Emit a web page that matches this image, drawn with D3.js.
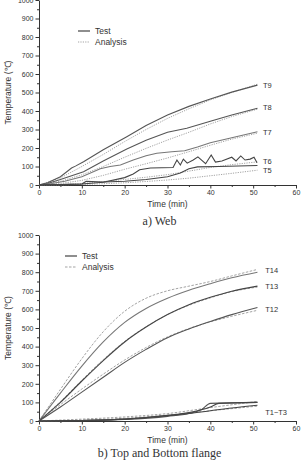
<!DOCTYPE html>
<html>
<head>
<meta charset="UTF-8">
<title>Temperature</title>
<script src="https://d3js.org/d3.v7.min.js"></script>
<style>
	body { margin: 0; background: #fff; }
	svg text { font-family: "Liberation Sans", Arial, sans-serif; fill: #333; }
	.caption { font-family: "Liberation Serif", "Times New Roman", serif !important; }
</style>
</head>
<body>
<div id="chart"></div>
<script>
	// ---- data (time in min, temperature in C) ----
	let xTicks = [0, 10, 20, 30, 40, 50, 60];
	let yTicks = [0, 100, 200, 300, 400, 500, 600, 700, 800, 900, 1000];

	// a) Web
	let t9Test = [[0,0],[2,12],[5,45],[7.6,92],[8.5,102],[10.4,126],[15,190],[20.5,261],[25,322],[30,378],[35,425],[40,465],[45,502],[51,540]];
	let t9Ana  = [[0,0],[5,38],[10,100],[15,165],[20,235],[25,300],[30,360],[35,412],[40,460],[45,500],[51,545]];
	let t8Test = [[0,0],[2,8],[5,30],[10.4,72],[15,130],[20.5,194],[25,242],[30,285],[34.5,307],[40.4,347],[45,378],[51,415]];
	let t8Ana  = [[0,0],[5,20],[10,55],[15,100],[20,150],[25,198],[30,243],[35,285],[40,330],[45,370],[51,410]];
	let t7Test = [[0,0],[3,8],[6,20],[10,45],[14.3,88],[16.6,100],[19,108],[22,135],[25,158],[27.5,172],[31,180],[34,185],[37,205],[40,228],[45,255],[51,288]];
	let t7Ana  = [[0,0],[5,8],[10,25],[15,52],[20,85],[25,115],[30,146],[35,180],[40,215],[45,248],[51,280]];
	let t6Test = [[0,0],[5,3],[10,5],[15,15],[20,40],[22,60],[23.5,82],[26,92],[31.3,95],[32.2,135],[33,108],[33.7,140],[34.6,118],[36,135],[37.1,152],[38.9,115],[40.2,162],[41.2,124],[42.7,130],[45,150],[46,130],[47.1,157],[48.1,135],[49.3,140],[50.2,150],[50.9,120]];
	let t6Ana  = [[0,0],[5,2],[10,8],[15,18],[20,30],[25,42],[30,56],[35,75],[40,95],[45,110],[51,125]];
	let t5Test = [[0,0],[5,2],[10,5],[11,20],[15,16],[20,20],[25,30],[30,45],[33,65],[35,88],[37,98],[42,100],[51,105]];
	let t5Ana  = [[0,0],[5,1],[10,3],[15,7],[20,12],[25,19],[30,27],[35,37],[40,50],[45,63],[51,80]];

	// b) Top and Bottom flange
	let t14Test = [[0,0],[5,150],[10,295],[15,425],[20,530],[25,605],[30,660],[35,703],[40,738],[45,770],[51,800]];
	let t14Ana  = [[0,0],[5,170],[10,335],[15,480],[20,590],[25,660],[30,700],[35,725],[40,750],[45,780],[51,815]];
	let t13Test = [[0,0],[5,100],[10,215],[15,325],[20,425],[25,505],[30,572],[35,625],[40,665],[45,698],[51,725]];
	let t13Ana  = [[0,0],[5,105],[10,220],[15,330],[20,428],[25,507],[30,572],[35,622],[40,662],[45,695],[51,720]];
	let t12Test = [[0,0],[5,75],[10,155],[15,235],[20,315],[25,385],[30,448],[35,495],[40,535],[45,572],[51,610]];
	let t12Ana  = [[0,0],[5,88],[10,172],[15,252],[20,328],[25,395],[30,452],[35,497],[40,533],[45,563],[51,595]];
	let t1Test  = [[0,0],[10,2],[20,8],[30,25],[35,40],[38,62],[40,95],[51,100]];
	let t2Test  = [[0,0],[10,3],[20,10],[30,30],[35,45],[40,75],[42,95],[51,100]];
	let t3Test  = [[0,0],[10,3],[20,10],[30,28],[35,40],[40,55],[45,70],[51,85]];
	let t1Ana   = [[0,0],[10,10],[20,22],[30,40],[40,72],[51,105]];
	let t3Ana   = [[0,0],[10,5],[20,15],[30,32],[40,55],[51,80]];

	let svg = d3.select("#chart")
		.append("svg")
		.attr("width", 304)
		.attr("height", 466);

	function drawPanel(p) {
		let g = svg.append("g").attr("transform", "translate(" + p.left + "," + p.top + ")");
		let x = d3.scaleLinear().domain([0, 60]).range([0, p.w]);
		let y = d3.scaleLinear().domain([0, 1000]).range([p.h, 0]);

		// minor ticks
		g.append("g").attr("transform", "translate(0," + p.h + ")")
			.call(d3.axisBottom(x).tickValues(d3.range(5, 60, 10)).tickSize(2).tickFormat(""))
			.call(a => a.select(".domain").remove());
		g.append("g")
			.call(d3.axisLeft(y).tickValues(d3.range(50, 1000, 100)).tickSize(2).tickFormat(""))
			.call(a => a.select(".domain").remove());

		let xa = g.append("g").attr("transform", "translate(0," + p.h + ")")
			.call(d3.axisBottom(x).tickValues(xTicks).tickSize(3.5).tickSizeOuter(0).tickPadding(2).tickFormat(d3.format("d")));
		let ya = g.append("g")
			.call(d3.axisLeft(y).tickValues(yTicks).tickSize(3.5).tickSizeOuter(0).tickPadding(2).tickFormat(d3.format("d")));
		[xa, ya].forEach(a => {
			a.selectAll("text").style("font-size", "7px").attr("fill", "#333");
			a.selectAll("line, path").attr("stroke", "#333");
		});
		g.selectAll(".tick line").attr("stroke", "#333");

		g.append("text").attr("x", p.w / 2).attr("y", p.h + 22)
			.attr("text-anchor", "middle").style("font-size", "8.5px").text("Time (min)");
		g.append("text").attr("transform", "translate(-28," + (p.h / 2) + ") rotate(-90)")
			.attr("text-anchor", "middle").style("font-size", "8.5px").text("Temperature (℃)");

		let line = d3.line().x(d => x(d[0])).y(d => y(d[1])).curve(p.curve);

		p.series.forEach(s => {
			g.append("path").datum(s.data)
				.attr("fill", "none")
				.attr("stroke", s.ana ? "#999" : (s.color || "#555"))
				.attr("stroke-width", s.ana ? 0.9 : 1.1)
				.attr("stroke-dasharray", s.ana ? p.dash : null)
				.attr("d", line);
		});

		p.labels.forEach(l => {
			g.append("text").attr("x", x(l.t)).attr("y", y(l.v)).attr("dy", "0.35em")
				.style("font-size", "7.5px").text(l.name);
		});

		// legend
		let lg = g.append("g").attr("transform", "translate(" + p.legX + "," + p.legY + ")");
		lg.append("line").attr("x1", 0).attr("x2", 12).attr("y1", 0).attr("y2", 0)
			.attr("stroke", "#444").attr("stroke-width", 1.2);
		lg.append("line").attr("x1", 0).attr("x2", 12).attr("y1", 11).attr("y2", 11)
			.attr("stroke", "#999").attr("stroke-width", 0.9).attr("stroke-dasharray", p.dash);
		lg.append("text").attr("x", 17).attr("y", 0).attr("dy", "0.35em").style("font-size", "8.5px").text("Test");
		lg.append("text").attr("x", 17).attr("y", 11).attr("dy", "0.35em").style("font-size", "8.5px").text("Analysis");

		svg.append("text").attr("class", "caption")
			.attr("x", p.left + p.w / 2 - 8).attr("y", p.top + p.h + p.capDy)
			.attr("text-anchor", "middle").style("font-size", "12px").text(p.caption);
	}

	drawPanel({
		left: 39, top: 0, w: 257, h: 185,
		curve: d3.curveLinear, dash: "1.2,1.2",
		legX: 39, legY: 31, capDy: 40, caption: "a)  Web",
		series: [
			{ data: t9Ana, ana: true }, { data: t8Ana, ana: true }, { data: t7Ana, ana: true },
			{ data: t6Ana, ana: true }, { data: t5Ana, ana: true },
			{ data: t9Test }, { data: t8Test }, { data: t7Test, color: "#777" },
			{ data: t6Test, color: "#444" }, { data: t5Test, color: "#444" }
		],
		labels: [
			{ name: "T9", t: 52.3, v: 540 }, { name: "T8", t: 52.3, v: 418 }, { name: "T7", t: 52.3, v: 287 },
			{ name: "T6", t: 52.3, v: 130 }, { name: "T5", t: 52.3, v: 80 }
		]
	});

	drawPanel({
		left: 39, top: 235, w: 257, h: 186,
		curve: d3.curveMonotoneX, dash: "2.5,1.5",
		legX: 26, legY: 21, capDy: 36, caption: "b)  Top and Bottom flange",
		series: [
			{ data: t14Ana, ana: true }, { data: t13Ana, ana: true }, { data: t12Ana, ana: true },
			{ data: t1Ana, ana: true }, { data: t3Ana, ana: true },
			{ data: t14Test, color: "#777" }, { data: t13Test, color: "#444" }, { data: t12Test },
			{ data: t1Test }, { data: t2Test, color: "#444" }, { data: t3Test, color: "#444" }
		],
		labels: [
			{ name: "T14", t: 52.8, v: 810 }, { name: "T13", t: 52.8, v: 725 }, { name: "T12", t: 52.8, v: 600 },
			{ name: "T1~T3", t: 52.8, v: 45 }
		]
	});
</script>
</body>
</html>
